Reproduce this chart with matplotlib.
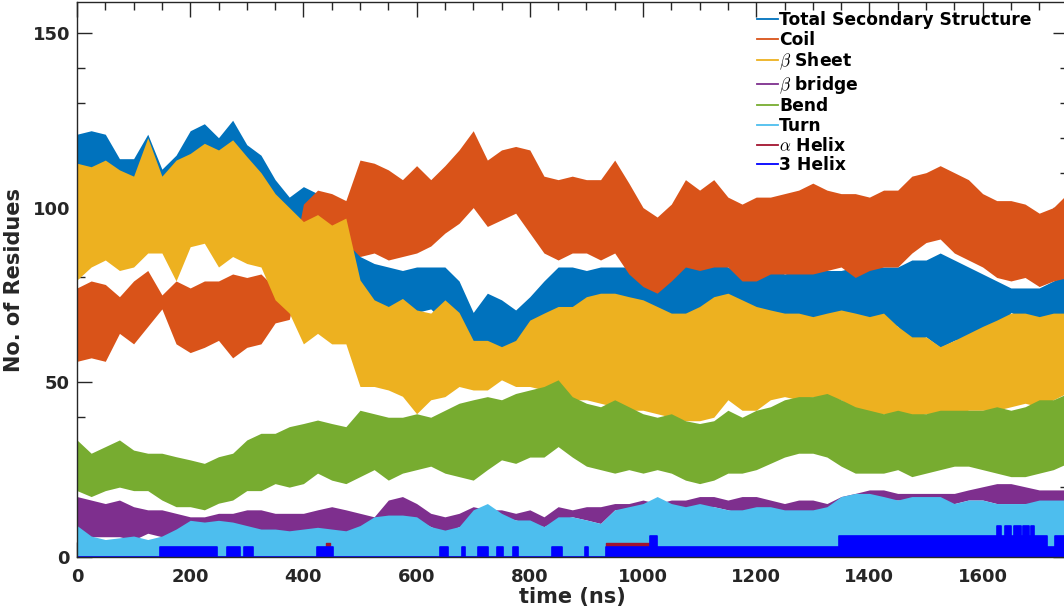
"""
Secondary structure content over the trajectory
"""
import matplotlib
matplotlib.use("Agg")
import matplotlib.pyplot as plt
from matplotlib.lines import Line2D
from matplotlib.ticker import MultipleLocator

# sampling grid (ns) used for the band envelopes
time_ns = list(range(0, 1751, 25))

total_hi = [121, 122, 121, 114, 114, 121, 111, 115, 122, 124, 120, 125, 118, 115, 108, 103, 106, 104, 101, 102,
            86, 84, 83, 82,
            83, 83, 83, 79, 70, 75.5, 73.6, 70.7, 74.5, 79, 83, 83, 82, 83, 83, 83, 80, 83, 83, 85, 86, 85, 83,
            81, 81, 83, 81, 82, 83, 82, 82, 83, 83, 83, 83, 85, 85, 87, 85, 83, 81, 79, 77, 77, 77, 79, 81]
total_lo = [104, 106, 105, 100, 100, 106, 98, 100, 106, 108, 106, 108, 104, 100, 95, 92, 92, 92, 90, 88,
            72, 69, 67, 70,
            70, 71, 67, 62, 52, 58, 54.5, 56.4, 61, 62, 64, 66, 66, 68, 66, 68, 67, 65, 68, 68, 71, 70, 70,
            70.7, 70, 68, 67, 68, 67, 66, 66, 66, 66, 68, 66, 61, 63, 60, 62, 63, 64, 64, 70, 68, 67, 68, 70]

coil_hi = [77, 79, 78, 74.5, 79, 82, 75, 79, 77, 79, 79, 81, 80, 81, 77, 80, 101, 105, 104, 102,
           113.6, 112.7, 110.8, 108,
           112, 108, 112, 116.5, 122, 113.6, 116.5, 117.5, 116.5, 109, 108, 109, 108, 108, 113.6, 107, 100, 97.3, 101, 108, 105, 108, 103,
           101, 103, 103, 104, 105, 107, 105, 104, 104, 103, 105, 105, 109, 110, 112, 110, 108, 104, 102, 102, 101, 98.4, 100, 104]
coil_lo = [56, 57, 56, 64, 61, 66, 71, 61, 58.5, 60, 62, 57, 60, 61, 67, 68, 85, 92, 92, 90,
           86, 87, 85, 86,
           87, 89, 92.7, 95.5, 100, 94.6, 96.5, 98.4, 92.7, 87, 85, 87, 87, 85, 87, 81, 77.4, 75.5, 79, 83, 82, 83, 83,
           79, 79, 81, 81, 81, 81, 82, 83, 80, 82, 83, 83, 87, 90, 91, 87, 85, 83, 80, 79, 80, 77.4, 79, 80]

sheet_hi = [112.7, 111.7, 113.6, 110.8, 109, 120, 109, 113.6, 115.5, 118.4, 116.5, 119.4, 114.6, 110, 104, 100, 96, 98, 95, 97,
            79.3, 73.6, 71.7, 74,
            70.7, 69.8, 73.6, 70, 62, 62, 60.2, 62, 67.8, 69.8, 71.7, 71.7, 74.5, 75.5, 75.5, 74.5, 73.6, 71.7, 69.8, 69.8, 71.7, 74.5, 75.5,
            73.6, 71.7, 70.7, 69.8, 69.8, 68.8, 69.8, 70.7, 69.8, 68.8, 69.8, 66, 63, 63, 60.2, 62, 64, 66, 67.8, 69.8, 69.8, 68.8, 69.8, 69.8]
sheet_lo = [79.3, 83, 85, 82, 83, 87, 87, 79, 88.8, 89.8, 83, 86, 84, 83, 73.6, 69.8, 61, 64, 61, 61,
            48.8, 48.8, 47.8, 46,
            41, 45, 45.9, 48.8, 47.8, 47.8, 50.7, 48.8, 48.8, 47.8, 47.8, 45, 45, 44, 43, 42, 42, 41, 40, 39, 39, 40, 45,
            42, 42, 45, 45.9, 45, 45.9, 45.9, 45, 42, 41, 41, 40, 40, 41, 41, 41, 42, 42, 42, 43, 44, 43, 45, 47]

bridge_hi = [17.3, 16.3, 15.3, 16.3, 14.4, 13.5, 13.5, 12.5, 11.5, 11.5, 12.5, 12.5, 13.5, 13.5, 12.5, 12.5, 12.5, 13.5, 14.4, 13.5,
             12.5, 11.5, 16.3, 17.3,
             15.3, 12.5, 11.5, 12.5, 14.4, 13.5, 13.5, 12.5, 13.5, 11.5, 14.4, 13.5, 14.4, 14.4, 15.3, 15.3, 16.3, 15.3, 16.3, 16.3, 17.3, 17.3, 16.3,
             17.3, 17.3, 16.3, 15.3, 16.3, 16.3, 15.3, 17.3, 18.2, 19.2, 19.2, 18.2, 18.2, 18.2, 18.2, 18.2, 19.2, 20.1, 21, 21, 20.1, 19.2, 19.2, 19.2]
bridge_lo = [5, 5.8, 5.8, 5.8, 4.9, 6.8, 5.8, 5.8, 6.8, 5.8, 5.8, 4.9, 5.8, 6.8, 6.8, 5.8, 5.8, 5.8, 4.9, 3.8,
             6.8, 9.6, 11.5, 10.6,
             10.6, 8.7, 6.8, 8.7, 9.6, 10.6, 11.5, 10.6, 9.6, 8.7, 10.6, 11.5, 10.6, 9.6, 13.5, 13.5, 14.4, 13.5, 13.5, 13.5, 14.4, 14.4, 13.5,
             12.5, 12.5, 12.5, 12.5, 11.5, 10.6, 13.5, 15.3, 16.3, 16.3, 16.3, 16.3, 16.3, 14.4, 15.3, 15.3, 16.3, 16.3, 15.3, 15.3, 15.3, 15.3, 14.4, 14.4]

bend_hi = [33.5, 29.7, 31.6, 33.5, 30.6, 29.7, 29.7, 28.7, 27.8, 26.8, 28.7, 29.7, 33.5, 35.4, 35.4, 37.3, 38.2, 39.2, 38.2, 37.3,
           42, 41, 40, 40,
           41, 40, 42, 44, 45, 45.9, 45, 46.8, 47.8, 48.8, 50.7, 45.9, 44, 43, 45, 43, 41, 40, 41, 39, 38.2, 39, 42,
           40, 42, 43, 45, 45.9, 45.9, 46.8, 45, 43, 42, 41, 42, 41, 41, 42, 42, 42, 42, 43, 42, 43, 45, 45, 46.8]
bend_lo = [19, 17.3, 19, 20, 19, 19, 16.3, 14.4, 14.4, 13.5, 15.4, 16.3, 19, 19, 21, 20, 21, 24, 22, 21,
           23, 25, 22, 24,
           25, 26, 24, 23, 22, 25, 27.8, 26.8, 28.6, 28.6, 31.6, 28.6, 26, 25, 24, 25, 24, 25, 24, 22, 21, 22, 24,
           24, 25, 26.8, 28.6, 29.7, 29.7, 28.6, 26, 24, 24, 24, 25, 23, 24, 25, 26, 26, 25, 24, 23, 23, 24, 25, 26.8]

turn_hi = [9, 6, 5, 5.5, 6, 5, 6, 8, 10.5, 10, 10.5, 10, 9, 8, 8, 7.5, 8, 8.5, 8, 7.5,
           9, 11.5, 12, 12,
           11.5, 8.7, 7.7, 8.7, 13.5, 15.3, 12.5, 10.6, 10.6, 8.7, 11.5, 11.5, 10.6, 9.6, 13.5, 14.4, 15.3, 17.3, 15.3, 14.4, 15.3, 14.4, 13.5,
           13.5, 14.4, 14.4, 13.5, 13.5, 13.5, 14.4, 17.3, 18.2, 18.2, 17.3, 16.3, 17.3, 17.3, 17.3, 15.3, 16.3, 16.3, 15.3, 15.3, 15.3, 16.3, 16.3, 16.3]

# helices are step-like counts
alpha_t = [0, 440, 447, 935, 1012, 1750]
alpha_v = [0, 4, 0, 4, 0, 0]
helix3_t = [0, 147, 247, 265, 288, 295, 311, 424, 452, 641, 656, 680, 686, 708, 726, 742, 753, 770, 779, 839,
            857, 898, 903, 935, 1012, 1025, 1347, 1625, 1632, 1640, 1650, 1655, 1668, 1672, 1682, 1686, 1690,
            1714, 1728, 1750]
helix3_v = [0, 3, 0, 3, 0, 3, 0, 3, 0, 3, 0, 3, 0, 3, 0, 3, 0, 3, 0, 3,
            0, 3, 0, 3, 6, 3, 6, 9, 6, 9, 6, 9, 6, 9, 6, 9, 6,
            3, 6, 6]

labels = ['Total Secondary Structure', 'Coil', r'$\beta$ Sheet', r'$\beta$ bridge',
          'Bend', 'Turn', r'$\alpha$ Helix', '3 Helix']
colors = ['#0072BD', '#D95319', '#EDB120', '#7E2F8E', '#77AC30', '#4DBEEE', '#A2142F', '#0000FF']

plt.rcParams['font.family'] = ['DejaVu Sans']
plt.rcParams['font.weight'] = 'bold'
plt.rcParams['mathtext.fontset'] = 'cm'

fig = plt.figure(figsize=(10.64, 6.08), dpi=100)
ax = fig.add_axes([77 / 1064, 51 / 608, 990.5 / 1064, 554.5 / 608])

bands = [(total_hi, total_lo), (coil_hi, coil_lo), (sheet_hi, sheet_lo),
         (bridge_hi, bridge_lo), (bend_hi, bend_lo)]
for i, (hi, lo) in enumerate(bands):
    ax.fill_between(time_ns, lo, hi, color=colors[i], lw=0, zorder=2 + i)
ax.fill_between(time_ns, 0, turn_hi, color=colors[5], lw=0, zorder=7)

ax.fill_between(alpha_t, 0, alpha_v, step='post', color=colors[6], lw=0, zorder=8)
ax.step(alpha_t, alpha_v, where='post', color=colors[6], lw=1, zorder=8)
ax.fill_between(helix3_t, 0, helix3_v, step='post', color=colors[7], lw=0, zorder=9)
ax.step(helix3_t, helix3_v, where='post', color=colors[7], lw=1.2, zorder=9)

ax.set_xlim(0, 1750)
ax.set_ylim(0, 158.7)
ax.set_xticks(range(0, 1750, 200))
ax.set_yticks([0, 50, 100, 150])
ax.xaxis.set_minor_locator(MultipleLocator(50))
ax.yaxis.set_minor_locator(MultipleLocator(10))
ax.tick_params(which='both', direction='in', top=True, right=True, colors='#262626', width=1)
ax.tick_params(which='major', length=11, labelsize=13)
ax.tick_params(which='minor', length=6)
ax.tick_params(axis='x', pad=8)
ax.tick_params(axis='y', pad=5)
for sp in ax.spines.values():
    sp.set_color('#262626')
    sp.set_linewidth(1)
    sp.set_zorder(20)

ax.set_xlabel('time (ns)', fontsize=15, fontweight='bold', color='#262626', labelpad=1)
ax.set_ylabel('No. of Residues', fontsize=15, fontweight='bold', color='#262626', labelpad=6)

handles = [Line2D([], [], color=c, lw=1.3) for c in colors]
leg = ax.legend(handles, labels, loc='upper left', bbox_to_anchor=(757 / 1064, 1 - 11 / 608),
                bbox_transform=fig.transFigure, frameon=False, fontsize=12.3,
                handlelength=1.25, handletextpad=0.05, labelspacing=0.1, borderpad=0,
                borderaxespad=0)
for txt in leg.get_texts():
    txt.set_fontweight('bold')
leg.set_zorder(30)

fig.savefig('out.png', dpi=100)
